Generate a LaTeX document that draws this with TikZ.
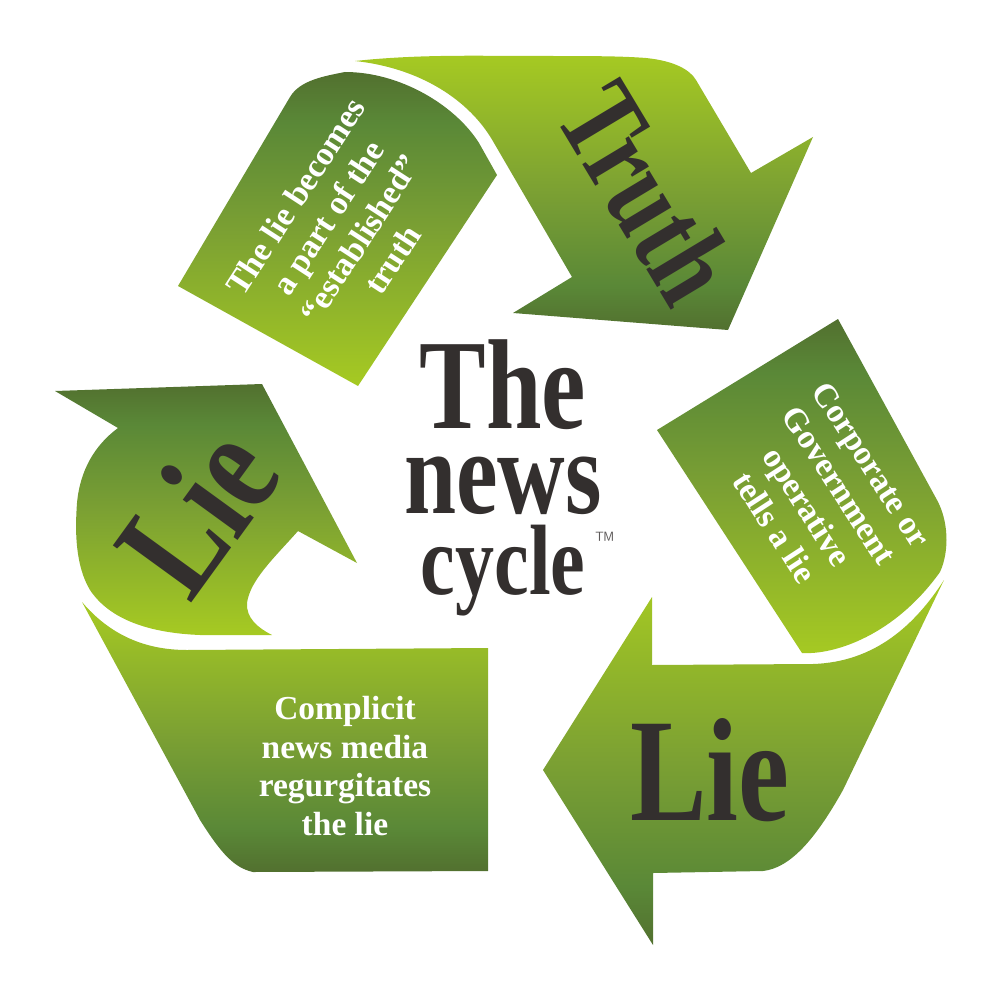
\documentclass[tikz,border=0pt]{standalone}
\usepackage{fontspec}
\setmainfont{Liberation Serif}
\newfontfamily\blk[FakeStretch=0.78]{Liberation Serif Bold}
\definecolor{gA}{HTML}{A6CA22}
\definecolor{gB}{HTML}{7BA033}
\definecolor{gC}{HTML}{5A8837}
\definecolor{gD}{HTML}{52702F}
\definecolor{ink}{HTML}{332F2E}
\pgfdeclareverticalshading{lighttop}{100bp}{color(0bp)=(gD); color(25bp)=(gD); color(33bp)=(gC); color(50bp)=(gB); color(75bp)=(gA); color(100bp)=(gA)}
\pgfdeclareverticalshading{darktop}{100bp}{color(0bp)=(gA); color(25bp)=(gA); color(50bp)=(gB); color(67bp)=(gC); color(75bp)=(gD); color(100bp)=(gD)}
\tikzset{
  lightband/.style={shading=lighttop},
  darkband/.style={shading=darktop},
  gothlabel/.style={text=ink,inner sep=0pt,anchor=base},
  bandtext/.style={text=white,inner sep=0pt,align=center,font=\fontsize{33.5}{38.5}\selectfont\bfseries},
}
\begin{document}
\begin{tikzpicture}[x=1pt,y=-1pt]
\useasboundingbox (0,0) rectangle (1000,1000);
% Truth arrow
\shade[lightband] (355,61) .. controls (420,54) and (480,56) .. (536,56)
  .. controls (590,56) and (620,56) .. (646,58) .. controls (675,61) and (690,70) .. (696,80)
  -- (751,173) -- (813,137) -- (728,330) -- (513,313) -- (572,277) -- (494,143)
  .. controls (470,100) and (420,68) .. (355,61) -- cycle;
% established panel
\shade[darkband] (345,72) .. controls (400,72) and (455,105) .. (479,143) -- (497,175)
  -- (358,386) -- (178,286) -- (290,97) .. controls (300,80) and (325,76) .. (345,72) -- cycle;
% Corporate panel
\shade[darkband] (838,319) -- (657,430) -- (802,653) .. controls (835,655) and (895,635) .. (940,572)
  .. controls (950,550) and (948,520) .. (937,500) -- cycle;
% bottom Lie arrow
\shade[lightband] (944,580) .. controls (915,625) and (875,662) .. (813,664) -- (652,665) -- (652,597)
  -- (543,770) -- (653,945) -- (653,873) -- (763,871)
  .. controls (790,868) and (815,840) .. (843,790) -- cycle;
% Complicit panel
\shade[lightband] (82,602) .. controls (110,635) and (145,650) .. (187,650) -- (488,648) -- (488,871)
  -- (253,872) .. controls (235,868) and (222,855) .. (200,820) -- cycle;
% left Lie arrow
\shade[darkband] (55,391) -- (262,384) -- (357,563) -- (298,531)
  .. controls (275,557) and (250,580) .. (247,603) .. controls (246,618) and (258,628) .. (272,635)
  -- (200,635) .. controls (150,633) and (110,620) .. (90,590)
  .. controls (75,565) and (75,530) .. (77,503) .. controls (80,470) and (95,445) .. (118,428) -- cycle;
% Texts
\node[gothlabel,font=\blk\fontsize{128}{128}\selectfont] (the) at (503,428) {The};
\node[gothlabel,font=\blk\fontsize{120}{120}\selectfont] (news) at (503,513) {news};
\node[gothlabel,font=\blk\fontsize{100}{100}\selectfont] (cyc) at (503,594) {cycle};
\node[text=ink!80,inner sep=0pt,font=\sffamily\fontsize{22}{22}\selectfont] (tm) at (605,540) {™};
\node[text=ink,inner sep=0pt,rotate=-59,font=\blk\fontsize{118}{118}\selectfont] (truth) at (647,193) {Truth};
\node[gothlabel,font=\blk\fontsize{147}{147}\selectfont] (lieb) at (710,820) {Lie};
\node[text=ink,inner sep=0pt,rotate=54,font=\blk\fontsize{148}{148}\selectfont] (liel) at (197,510) {Lie};
\node[bandtext] (compl) at (345,766) {Complicit\\news media\\regurgitates\\the lie};
\node[bandtext,rotate=57] (estab) at (344,228) {The lie becomes\\a part of the\\“established”\\truth};
\node[bandtext,rotate=-57] (corp) at (823,496) {Corporate or\\Government\\operative\\tells a lie};
\end{tikzpicture}
\end{document}
